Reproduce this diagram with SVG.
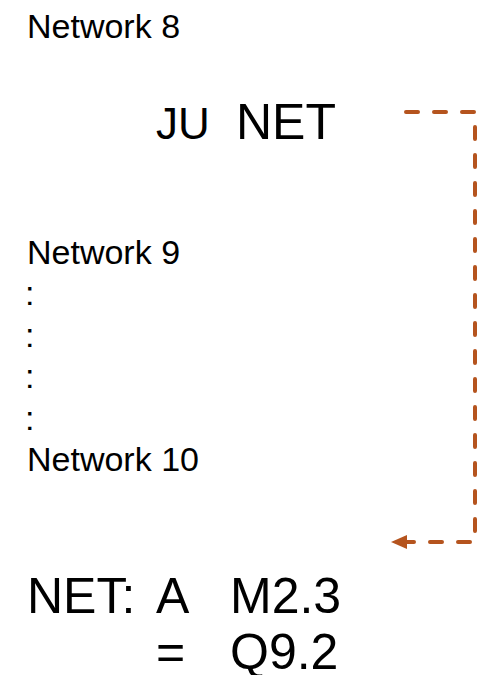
<svg xmlns="http://www.w3.org/2000/svg" width="477" height="675" viewBox="0 0 477 675">
<style>
text{font-family:"Liberation Sans",Arial,sans-serif;fill:#000}
.s{font-size:34px}
.b{font-size:50px}
.conn{fill:none;stroke:#B5541E;stroke-width:4;stroke-linecap:round;stroke-dasharray:12 16}
</style>
<defs>
<marker id="ah" markerUnits="userSpaceOnUse" markerWidth="16" markerHeight="14" refX="0" refY="7" orient="auto">
<path d="M0,0 L16,7 L0,14 z" fill="#B5541E"/>
</marker>
</defs>
<rect width="477" height="675" fill="#fff"/>
<g id="network8"><text class="s" x="27" y="38">Network 8</text></g>
<g id="junet"><text x="156" y="139" style="font-size:44px">JU</text><text class="b" x="236" y="139">NET</text></g>
<g id="network9"><text class="s" x="27" y="264">Network 9</text></g>
<g id="dots">
<text class="s" x="25" y="305">:</text>
<text class="s" x="25" y="347">:</text>
<text class="s" x="25" y="388">:</text>
<text class="s" x="25" y="430">:</text>
</g>
<g id="network10"><text class="s" x="27" y="471">Network 10</text></g>
<g id="netlabel">
<text class="b" x="27" y="613">NET:</text>
<text class="b" x="156" y="613">A</text>
<text class="b" x="230" y="613">M2.3</text>
<text class="b" x="156" y="669">=</text>
<text class="b" x="230" y="669">Q9.2</text>
</g>
<g id="connectors">
<path class="conn" d="M406,112 H475 V542 H407" marker-end="url(#ah)"/>
</g>
</svg>
